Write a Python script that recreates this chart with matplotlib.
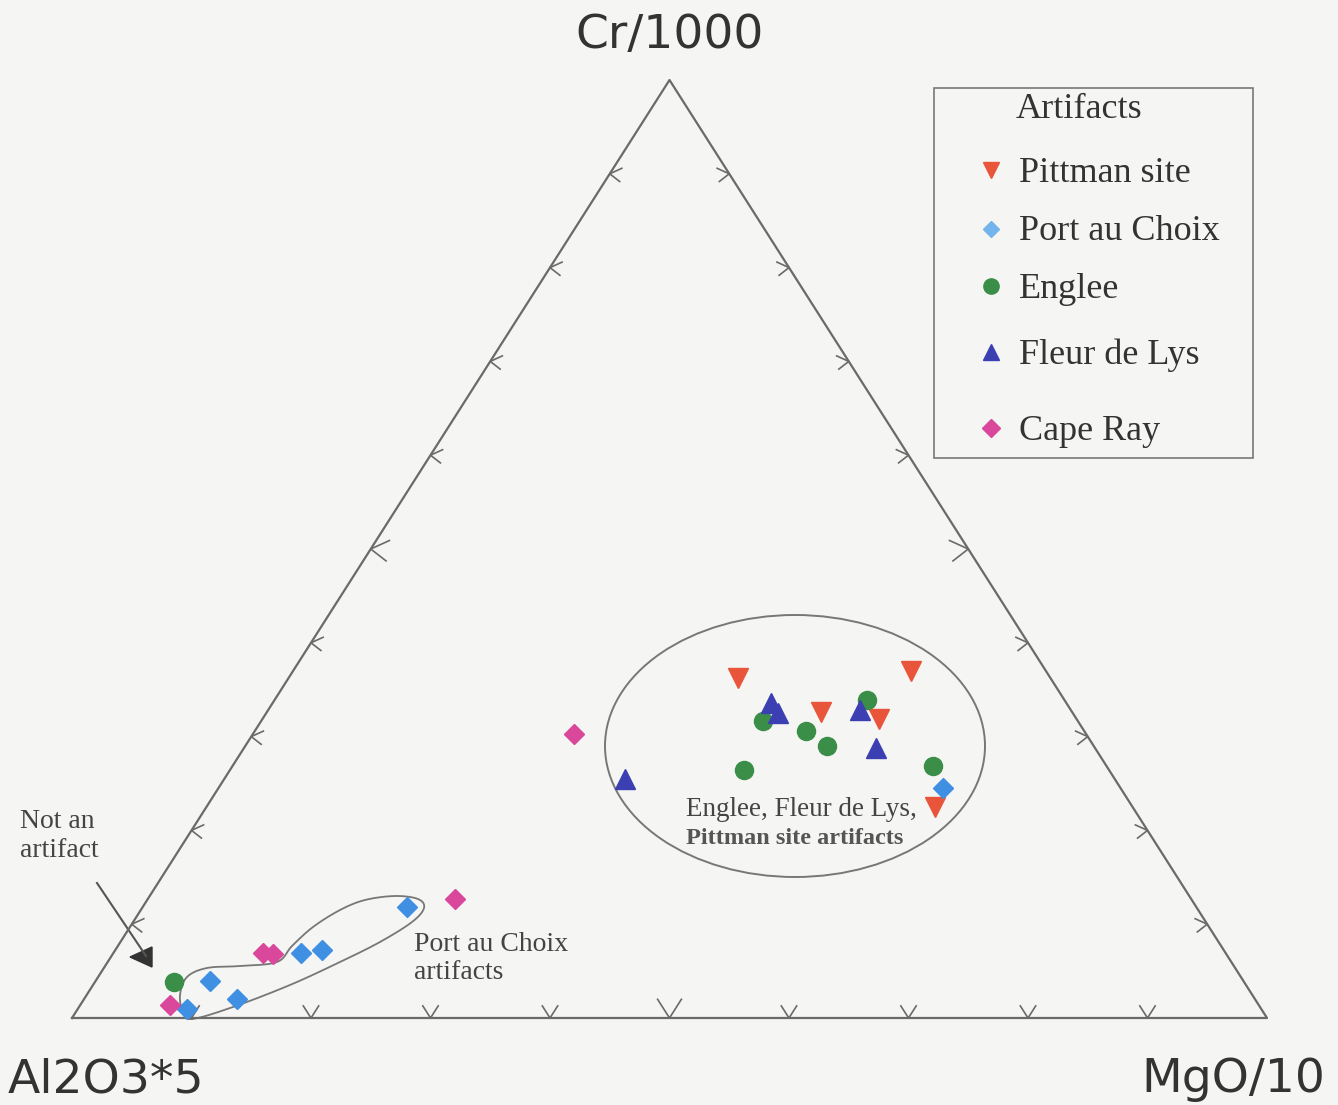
import numpy as np
import matplotlib.pyplot as plt
from matplotlib.patches import Ellipse, Polygon, Rectangle

W, H = 1338, 1105
# triangle corners in pixels: Al2O3 bottom-left, MgO bottom-right, Cr top
X0, X1, YB, YT = 72, 1267, 1018, 80

# compositions (fractions of Al2O3*5, Cr/1000, MgO/10)
pittman_al = [0.262, 0.113, 0.210, 0.165, 0.165]
pittman_cr = [0.362, 0.370, 0.326, 0.319, 0.225]
pittman_mg = [0.376, 0.517, 0.464, 0.516, 0.610]

pac_al = [0.661, 0.754, 0.774, 0.865, 0.852, 0.899, 0.149]
pac_cr = [0.118, 0.073, 0.069, 0.039, 0.020, 0.010, 0.245]
pac_mg = [0.221, 0.173, 0.157, 0.096, 0.128, 0.091, 0.606]

englee_al = [0.896, 0.165, 0.263, 0.233, 0.223, 0.306, 0.145]
englee_cr = [0.038, 0.339, 0.317, 0.306, 0.290, 0.264, 0.269]
englee_mg = [0.066, 0.496, 0.420, 0.461, 0.487, 0.430, 0.586]

fdl_al = [0.247, 0.247, 0.177, 0.183, 0.410]
fdl_cr = [0.336, 0.325, 0.328, 0.288, 0.255]
fdl_mg = [0.417, 0.428, 0.495, 0.529, 0.335]

cape_al = [0.428, 0.616, 0.806, 0.798, 0.911]
cape_cr = [0.303, 0.127, 0.069, 0.068, 0.014]
cape_mg = [0.269, 0.257, 0.125, 0.134, 0.075]

series = [
    ("Pittman site", pittman_al, pittman_cr, pittman_mg, "v", "#e8553a", 15),
    ("Port au Choix", pac_al, pac_cr, pac_mg, "D", "#3f8fe3", 10),
    ("Englee", englee_al, englee_cr, englee_mg, "o", "#3a8e48", 13),
    ("Fleur de Lys", fdl_al, fdl_cr, fdl_mg, "^", "#3c3fb2", 15),
    ("Cape Ray", cape_al, cape_cr, cape_mg, "D", "#d9489a", 10),
]

LINE = "#6a6a6a"
SERIF = ["Liberation Serif", "DejaVu Serif"]


def tern(al, cr, mg):
    al, cr, mg = (np.asarray(v, float) for v in (al, cr, mg))
    s = al + cr + mg
    cr, mg = cr / s, mg / s
    return mg + cr / 2, cr


def off(dx, dy):
    # pixel offset -> data offset in the triangle axes
    return dx / (X1 - X0), -dy / (YB - YT)


fig = plt.figure(figsize=(W / 100, H / 100), dpi=100, facecolor="#f5f5f3")
ax = fig.add_axes([X0 / W, (H - YB) / H, (X1 - X0) / W, (YB - YT) / H])
ax.set_xlim(0, 1)
ax.set_ylim(0, 1)
ax.axis("off")

# overlay in pixel coordinates for annotations
ov = fig.add_axes([0, 0, 1, 1], zorder=-1)
ov.set_xlim(0, W)
ov.set_ylim(H, 0)
ov.axis("off")

# triangle frame
ax.plot([0, 1, 0.5, 0], [0, 0, 1, 0], color=LINE, lw=1.6, clip_on=False)

# chevron ticks every 10 %
for k in range(1, 10):
    f = k / 10
    sc = 1.7 if k == 5 else 1.1
    # bottom edge: V
    bx, by = tern(1 - f, 0, f)
    pts = [off(-7 * sc, -11 * sc), (0, 0), off(7 * sc, -11 * sc)]
    ax.plot([bx + p[0] for p in pts], [by + p[1] for p in pts],
            color=LINE, lw=1.2, clip_on=False)
    # left edge: <
    lx, ly = tern(1 - f, f, 0)
    pts = [off(11 * sc, -5 * sc), (0, 0), off(9 * sc, 7 * sc)]
    ax.plot([lx + p[0] for p in pts], [ly + p[1] for p in pts],
            color=LINE, lw=1.2, clip_on=False)
    # right edge: >
    rx, ry = tern(0, f, 1 - f)
    pts = [off(-11 * sc, -5 * sc), (0, 0), off(-9 * sc, 7 * sc)]
    ax.plot([rx + p[0] for p in pts], [ry + p[1] for p in pts],
            color=LINE, lw=1.2, clip_on=False)

# data points
for name, a, c, m, mk, col, ms in series:
    x, y = tern(a, c, m)
    ax.plot(x, y, ls="none", marker=mk, color=col, ms=ms, mec=col, clip_on=False)

# group outlines
ov.add_patch(Ellipse((795, 746), 380, 262, fill=False, ec="#777777", lw=1.4))

pac_outline = np.array([
    (192, 1019), (233, 1007), (290, 985), (340, 962), (380, 942), (412, 922),
    (424, 908), (418, 899), (395, 896), (365, 900), (340, 910), (313, 927),
    (292, 946), (277, 962), (240, 966), (207, 968), (187, 977), (180, 995),
    (183, 1012)])


def catmull(p, n=20):
    out = []
    m = len(p)
    for i in range(m):
        p0, p1, p2, p3 = p[i - 1], p[i], p[(i + 1) % m], p[(i + 2) % m]
        for t in np.linspace(0, 1, n, endpoint=False):
            t2, t3 = t * t, t * t * t
            out.append(0.5 * ((2 * p1) + (-p0 + p2) * t
                              + (2 * p0 - 5 * p1 + 4 * p2 - p3) * t2
                              + (-p0 + 3 * p1 - 3 * p2 + p3) * t3))
    out.append(out[0])
    return np.array(out)


curve = catmull(pac_outline.astype(float))
ov.plot(curve[:, 0], curve[:, 1], color="#777777", lw=1.3)

# arrow to the "not an artifact" point
ov.plot([97, 146], [883, 956], color="#555555", lw=1.5)
ov.add_patch(Polygon([(130, 957), (152, 947), (152, 967)], closed=True,
                     color="#333333"))

# corner labels
ov.text(670, 35, "Cr/1000", ha="center", va="center", fontsize=34, color="#333333")
ov.text(8, 1080, "Al2O3*5", ha="left", va="center", fontsize=34, color="#333333")
ov.text(1325, 1080, "MgO/10", ha="right", va="center", fontsize=34, color="#333333")

# annotations
ov.text(20, 809, "Not an\nartifact", ha="left", va="top", fontsize=20,
        family=SERIF, color="#444444", linespacing=1.2)
ov.text(414, 932, "Port au Choix\nartifacts", ha="left", va="top", fontsize=20,
        family=SERIF, color="#444444", linespacing=1.15)
ov.text(686, 810, "Englee, Fleur de Lys,", ha="left", va="center", fontsize=19.5,
        family=SERIF, color="#444444")
ov.text(686, 838, "Pittman site artifacts", ha="left", va="center", fontsize=17.5,
        family=SERIF, color="#555555", fontweight="bold")

# legend box
ov.add_patch(Rectangle((934, 88), 319, 370, fill=False, ec="#777777", lw=1.2))
ov.text(1079, 109, "Artifacts", ha="center", va="center", fontsize=26,
        family=SERIF, color="#333333")
leg_y = [173, 232, 289, 355, 431]
leg_ms = [12, 8, 11, 11, 9]
leg_cols = ["#e8553a", "#74b4ec", "#3a8e48", "#3c3fb2", "#d9489a"]
for (name, a, c, m, mk, col, ms), yy, lms, lc in zip(series, leg_y, leg_ms, leg_cols):
    ov.plot([991], [yy - 3], marker=mk, ls="none", ms=lms, color=lc, mec=lc)
    ov.text(1019, yy, name, ha="left", va="center", fontsize=26,
            family=SERIF, color="#333333")

fig.savefig("out.png", dpi=100, facecolor=fig.get_facecolor())
